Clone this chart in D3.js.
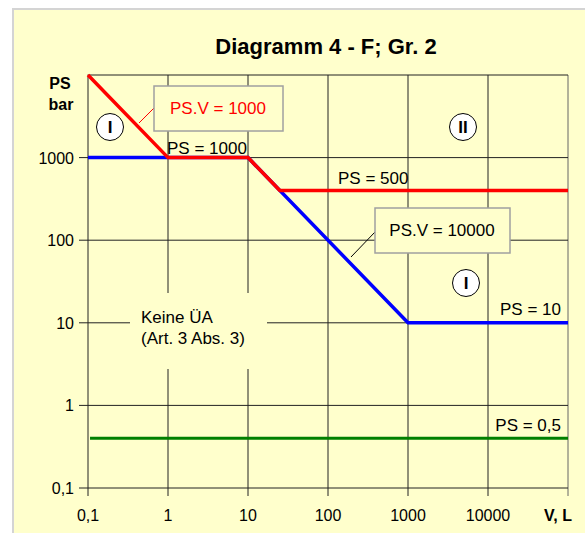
<!DOCTYPE html>
<html>
<head>
<meta charset="utf-8">
<script src="https://cdn.jsdelivr.net/npm/d3@7"></script>
<style>
  body { margin: 0; background: #fff; }
  text { font-family: "Liberation Sans", Arial, sans-serif; }
</style>
</head>
<body>
<div id="chart"></div>
<script>
// values
var xTicks = [0.1, 1, 10, 100, 1000, 10000];
var xTickLabels = ["0,1", "1", "10", "100", "1000", "10000"];
var yTicks = [0.1, 1, 10, 100, 1000];
var yTickLabels = ["0,1", "1", "10", "100", "1000"];

var redV = [0.1, 1, 10, 25, 100000];
var redPS = [10000, 1000, 1000, 400, 400];
var blueV = [0.1, 10, 1000, 100000];
var bluePS = [1000, 1000, 10, 10];
var greenV = [0.106, 100000];
var greenPS = [0.4, 0.4];

var width = 585, height = 533;

var svg = d3.select('#chart').append('svg')
    .attr('width', width)
    .attr('height', height);

// panel
svg.append('rect')
    .attr('x', 13).attr('y', 9)
    .attr('width', 580).attr('height', 540)
    .attr('fill', '#ffffcc')
    .attr('stroke', '#d4d4d4')
    .attr('stroke-width', 2);

var x = d3.scaleLog().domain([0.1, 100000]).range([88, 568]);
var y = d3.scaleLog().domain([0.1, 10000]).range([488, 75]);

svg.append('text')
    .attr('x', 326).attr('y', 54)
    .attr('text-anchor', 'middle')
    .attr('font-size', 22).attr('font-weight', 'bold')
    .text('Diagramm 4 - F; Gr. 2');

// grid
var gridX = xTicks.concat([100000]);
var gridY = yTicks.concat([10000]);
svg.append('g').selectAll('line.v')
    .data(gridX).enter().append('line')
    .attr('x1', d => x(d)).attr('x2', d => x(d))
    .attr('y1', y(10000)).attr('y2', y(0.1) + 8)
    .attr('stroke', d => d === 100000 ? '#666' : '#222')
    .attr('stroke-width', 1);
svg.append('g').selectAll('line.h')
    .data(gridY).enter().append('line')
    .attr('x1', x(0.1) - 9).attr('x2', x(100000))
    .attr('y1', d => y(d)).attr('y2', d => y(d))
    .attr('stroke', '#222')
    .attr('stroke-width', 1);
// top tick not extended left
svg.append('rect')
    .attr('x', x(0.1) - 10).attr('y', y(10000) - 2)
    .attr('width', 9.5).attr('height', 4)
    .attr('fill', '#ffffcc');

// tick labels
svg.append('g').selectAll('text')
    .data(xTicks).enter().append('text')
    .attr('x', d => x(d)).attr('y', 521)
    .attr('text-anchor', 'middle')
    .attr('font-size', 16)
    .text((d, i) => xTickLabels[i]);
svg.append('text')
    .attr('x', 558).attr('y', 521)
    .attr('text-anchor', 'middle')
    .attr('font-size', 16).attr('font-weight', 'bold')
    .text('V, L');

svg.append('g').selectAll('text')
    .data(yTicks).enter().append('text')
    .attr('x', 74).attr('y', d => y(d) + 6)
    .attr('text-anchor', 'end')
    .attr('font-size', 16)
    .text((d, i) => yTickLabels[i]);
svg.append('text')
    .attr('x', 60).attr('y', 89)
    .attr('text-anchor', 'middle')
    .attr('font-size', 16).attr('font-weight', 'bold')
    .text('PS');
svg.append('text')
    .attr('x', 61).attr('y', 110)
    .attr('text-anchor', 'middle')
    .attr('font-size', 16).attr('font-weight', 'bold')
    .text('bar');

// "Keine ÜA" label sits on a yellow patch over the grid
svg.append('rect')
    .attr('x', 130).attr('y', 293)
    .attr('width', 137).attr('height', 76)
    .attr('fill', '#ffffcc');
svg.append('text')
    .attr('x', 141).attr('y', 323)
    .attr('font-size', 17)
    .text('Keine ÜA');
svg.append('text')
    .attr('x', 141).attr('y', 344)
    .attr('font-size', 17)
    .text('(Art. 3 Abs. 3)');

var line = d3.line().x(d => x(d[0])).y(d => y(d[1]));

svg.append('path')
    .datum(greenV.map((v, i) => [v, greenPS[i]]))
    .attr('d', line)
    .attr('fill', 'none').attr('stroke', '#008000').attr('stroke-width', 3);
svg.append('path')
    .datum(blueV.map((v, i) => [v, bluePS[i]]))
    .attr('d', line)
    .attr('fill', 'none').attr('stroke', '#0000ff').attr('stroke-width', 3.5);
svg.append('path')
    .datum(redV.map((v, i) => [v, redPS[i]]))
    .attr('d', line)
    .attr('fill', 'none').attr('stroke', '#ff0000').attr('stroke-width', 3.5);

// line labels
var labels = [
    {t: 'PS = 1000', x: 167, y: 154, a: 'start'},
    {t: 'PS = 500', x: 338, y: 184, a: 'start'},
    {t: 'PS = 10', x: 561, y: 315, a: 'end'},
    {t: 'PS = 0,5', x: 561, y: 431, a: 'end'}
];
svg.append('g').selectAll('text')
    .data(labels).enter().append('text')
    .attr('x', d => d.x).attr('y', d => d.y)
    .attr('text-anchor', d => d.a)
    .attr('font-size', 17)
    .text(d => d.t);

// callout boxes
svg.append('line')
    .attr('x1', 154).attr('y1', 108).attr('x2', 139).attr('y2', 123)
    .attr('stroke', '#ff0000').attr('stroke-width', 1);
svg.append('rect')
    .attr('x', 154).attr('y', 86).attr('width', 129).attr('height', 45)
    .attr('fill', '#ffffcc').attr('stroke', '#a0a0a0').attr('stroke-width', 1.5);
svg.append('text')
    .attr('x', 218).attr('y', 114)
    .attr('text-anchor', 'middle')
    .attr('font-size', 17).attr('fill', '#ff0000')
    .text('PS.V = 1000');

svg.append('line')
    .attr('x1', 375).attr('y1', 232).attr('x2', 351).attr('y2', 257)
    .attr('stroke', '#000').attr('stroke-width', 1);
svg.append('rect')
    .attr('x', 375).attr('y', 208).attr('width', 135).attr('height', 45)
    .attr('fill', '#ffffcc').attr('stroke', '#a0a0a0').attr('stroke-width', 1.5);
svg.append('text')
    .attr('x', 442).attr('y', 236)
    .attr('text-anchor', 'middle')
    .attr('font-size', 17).attr('fill', '#000')
    .text('PS.V = 10000');

// circled category marks
var marks = [
    {t: 'I', x: 110, y: 127},
    {t: 'II', x: 463, y: 127},
    {t: 'I', x: 466, y: 283}
];
var mg = svg.append('g').selectAll('g')
    .data(marks).enter().append('g')
    .attr('transform', d => 'translate(' + d.x + ',' + d.y + ')');
mg.append('circle')
    .attr('r', 13.5)
    .attr('fill', '#fff').attr('stroke', '#000').attr('stroke-width', 1);
mg.append('text')
    .attr('y', 6)
    .attr('text-anchor', 'middle')
    .attr('font-size', 17).attr('font-weight', 'bold')
    .text(d => d.t);
</script>
</body>
</html>
